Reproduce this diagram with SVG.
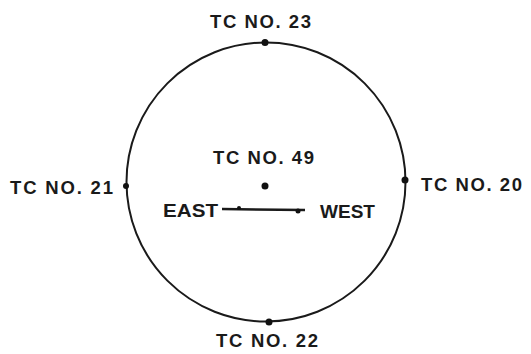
<svg xmlns="http://www.w3.org/2000/svg" width="531" height="354" viewBox="0 0 531 354">
<style>
.lbl{font-family:"Liberation Sans",Arial,sans-serif;font-size:18.5px;font-weight:bold;fill:#1a1a1a}
.dot{fill:#111}
.ln{stroke:#1a1a1a;fill:none}
</style>
<rect width="531" height="354" fill="#fff"/>
<g id="ring"><circle class="ln" cx="266" cy="182" r="139.5" stroke-width="2"/></g>
<g id="tc23"><circle class="dot" cx="265" cy="42.5" r="3.5"/><text class="lbl" x="210" y="28" textLength="101" lengthAdjust="spacing">TC NO. 23</text></g>
<g id="tc20"><circle class="dot" cx="405" cy="180" r="3.5"/><text class="lbl" x="421" y="191" textLength="101" lengthAdjust="spacing">TC NO. 20</text></g>
<g id="tc21"><circle class="dot" cx="126" cy="186" r="3"/><text class="lbl" x="10" y="194" textLength="103" lengthAdjust="spacing">TC NO. 21</text></g>
<g id="tc22"><circle class="dot" cx="269" cy="322" r="3.5"/><text class="lbl" x="216" y="347" textLength="102" lengthAdjust="spacing">TC NO. 22</text></g>
<g id="tc49"><circle class="dot" cx="265" cy="186" r="3.5"/><text class="lbl" x="213" y="164" textLength="101" lengthAdjust="spacing">TC NO. 49</text></g>
<g id="connectors">
<line class="ln" x1="222" y1="209" x2="305" y2="210" stroke-width="2.5"/>
<circle class="dot" cx="239" cy="208" r="2"/>
<circle class="dot" cx="298" cy="211" r="2.5"/>
</g>
<g id="east"><text class="lbl" x="163" y="217" textLength="55" lengthAdjust="spacingAndGlyphs">EAST</text></g>
<g id="west"><text class="lbl" x="320" y="218" textLength="55" lengthAdjust="spacingAndGlyphs">WEST</text></g>
</svg>
